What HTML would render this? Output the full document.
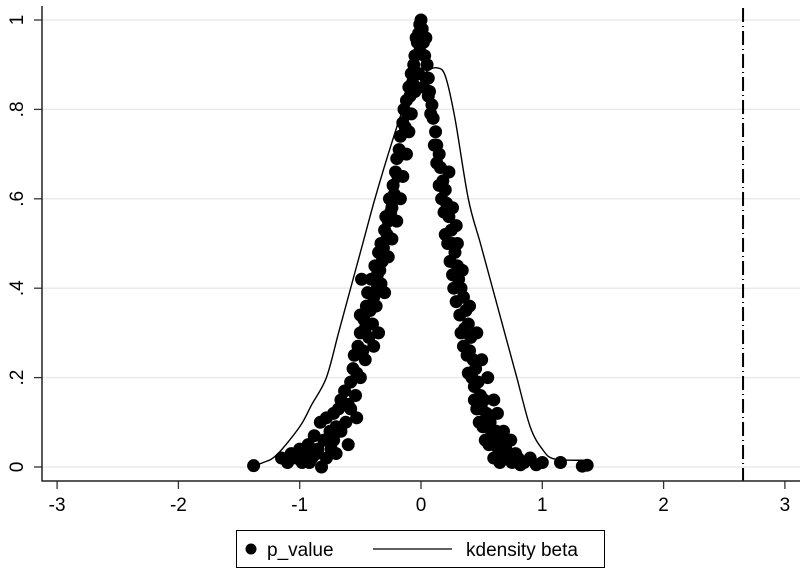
<!DOCTYPE html>
<html><head><meta charset="utf-8"><style>
body{margin:0;background:#fff;}
svg{display:block;font-family:"Liberation Sans",Arial,sans-serif;}
</style></head><body>
<svg id="chart" width="808" height="572" viewBox="0 0 808 572" xmlns="http://www.w3.org/2000/svg">
<rect width="808" height="572" fill="#fff"/>
<g id="grid"></g>
<g id="vline"></g>
<g id="curve"></g>
<g id="pts"></g>
<g id="axes"></g>
<g>
<rect x="236.5" y="530.5" width="368" height="37" fill="#fff" stroke="#000" stroke-width="1"/>
<circle cx="251" cy="549" r="5.5" fill="#000"/>
<text x="267" y="556" font-size="19">p_value</text>
<line x1="373" y1="549" x2="452" y2="549" stroke="#000" stroke-width="1.3"/>
<text x="466" y="556" font-size="19">kdensity beta</text>
</g>
</svg>
<script>
const xTicks=[-3,-2,-1,0,1,2,3];
const yTicks=[0,0.2,0.4,0.6,0.8,1];
const yTickLabels=["0",".2",".4",".6",".8","1"];
const refLineX=2.655;
const curveX=[-1.38,-1.3,-1.19,-1.0,-0.9,-0.78,-0.68,-0.58,-0.48,-0.38,-0.27,-0.15,-0.05,0.05,0.13,0.2,0.28,0.39,0.49,0.59,0.69,0.79,0.9,1.0,1.1,1.36];
const curveY=[0.003,0.01,0.027,0.09,0.14,0.2,0.3,0.4,0.5,0.6,0.7,0.8,0.86,0.885,0.893,0.875,0.78,0.6,0.5,0.4,0.3,0.2,0.09,0.04,0.018,0.015];
const ptX=[-1.38,-1.15,-1.1,-1.07,-1.03,-1.0,-0.98,-0.95,-0.93,-0.9,-0.88,-0.85,-0.83,-0.8,-0.78,-0.75,-0.72,-0.7,-0.68,-0.66,-0.63,-0.6,-0.58,-0.56,-0.55,-0.53,-0.52,-0.5,-0.48,-0.47,-0.45,-0.46,-0.44,-0.42,-0.41,-0.39,-0.38,-0.36,-0.35,-0.33,-0.32,-0.3,-0.29,-0.27,-0.26,-0.24,-0.23,-0.21,-0.2,-0.18,-0.17,-0.15,-0.14,-0.12,-0.1,-0.08,-0.06,-0.05,-0.03,-0.02,-0.01,0,-0.49,-0.5,-0.53,-0.6,-0.7,-0.82,-0.72,
-0.36,-0.34,-0.31,-0.28,-0.25,-0.22,-0.19,-0.16,-0.13,-0.11,-0.09,-0.07,-0.4,-0.43,-0.46,-0.5,-0.54,-0.58,-0.62,-0.66,-0.74,-0.78,-0.86,-0.92,-0.37,-0.33,-0.3,-0.35,-0.39,-0.27,-0.24,-0.2,-0.17,-0.15,-0.12,-0.1,-0.08,-0.05,-0.03,-0.01,
0.01,0.02,0.03,0.05,0.06,0.07,0.09,0.1,0.12,0.13,0.15,0.16,0.18,0.2,0.21,0.23,0.25,0.26,0.28,0.3,0.31,0.33,0.35,0.37,0.36,0.39,0.41,0.4,0.43,0.45,0.44,0.47,0.49,0.5,0.52,0.54,0.55,0.57,0.58,0.6,0.62,0.64,0.66,0.68,0.72,0.75,0.78,0.82,0.85,0.9,0.95,1.0,1.15,1.33,1.37,0.04,-0.04,0.02,-0.02,
0.04,0.06,0.08,0.11,0.13,0.15,0.17,0.19,0.2,0.22,0.24,0.26,0.27,0.29,0.32,0.33,0.35,0.38,0.39,0.42,0.44,0.46,0.48,0.51,0.53,0.56,0.6,0.65,0.7,0.8,0.23,0.26,0.29,0.3,0.34,0.4,0.46,0.5,0.55,0.6,0.63,0.68,0.74];
const ptY=[0.003,0.02,0.01,0.03,0.02,0.04,0.01,0.03,0.05,0.02,0.07,0.04,0.1,0.06,0.11,0.08,0.12,0.09,0.13,0.15,0.17,0.14,0.19,0.22,0.25,0.21,0.27,0.3,0.26,0.33,0.36,0.31,0.39,0.35,0.42,0.38,0.45,0.43,0.48,0.5,0.46,0.53,0.56,0.55,0.6,0.58,0.63,0.66,0.69,0.71,0.74,0.77,0.8,0.82,0.85,0.88,0.9,0.92,0.95,0.97,0.99,1.0,0.42,0.34,0.11,0.05,0.03,0.0,0.06,
0.4,0.44,0.49,0.52,0.57,0.61,0.65,0.7,0.76,0.79,0.83,0.86,0.32,0.29,0.24,0.2,0.16,0.13,0.1,0.08,0.04,0.02,0.03,0.01,0.36,0.41,0.39,0.3,0.27,0.47,0.51,0.55,0.6,0.65,0.7,0.75,0.79,0.84,0.88,0.93,
0.98,0.95,0.92,0.9,0.87,0.84,0.81,0.78,0.75,0.72,0.7,0.67,0.64,0.62,0.59,0.56,0.53,0.5,0.48,0.45,0.42,0.4,0.38,0.35,0.31,0.32,0.29,0.26,0.24,0.22,0.18,0.19,0.16,0.13,0.15,0.12,0.09,0.1,0.07,0.05,0.08,0.04,0.06,0.03,0.02,0.01,0.03,0.005,0.01,0.02,0.005,0.01,0.01,0.002,0.004,0.96,0.96,0.85,0.88,
0.87,0.83,0.79,0.72,0.68,0.63,0.6,0.57,0.52,0.5,0.46,0.43,0.4,0.37,0.34,0.3,0.27,0.25,0.21,0.2,0.15,0.13,0.1,0.09,0.06,0.05,0.02,0.01,0.04,0.02,0.66,0.58,0.54,0.5,0.44,0.36,0.3,0.24,0.2,0.15,0.12,0.08,0.06];

const NS="http://www.w3.org/2000/svg";
const sx=v=>421+v*121.3;
const sy=v=>467-v*447;
function mk(tag,attrs,parent){const e=document.createElementNS(NS,tag);for(const k in attrs)e.setAttribute(k,attrs[k]);parent.appendChild(e);return e;}
const grid=document.getElementById('grid'),axes=document.getElementById('axes');
yTicks.forEach((t,i)=>{
  const g=mk('line',{x1:42,x2:800,y1:sy(t),y2:sy(t),stroke:'#eaeaea','stroke-width':1.5},grid);
  
  
  const tk=mk('line',{x1:34,x2:42,y1:sy(t),y2:sy(t),stroke:'#333','stroke-width':1.3},axes);
  
  
  const lb=mk('text',{x:0,y:0,'font-size':19,'text-anchor':'middle',transform:`translate(23,${sy(t)}) rotate(-90)`},axes);
  lb.textContent=yTickLabels[i];
  
  
});
xTicks.forEach(t=>{
  const tk=mk('line',{x1:sx(t),x2:sx(t),y1:481,y2:489,stroke:'#333','stroke-width':1.3},axes);
  
  
  const lb=mk('text',{x:sx(t),y:511,'font-size':19,'text-anchor':'middle'},axes);
  lb.textContent=String(t);
  
  
});
const ya=mk('line',{x1:42,x2:42,y1:6,y2:481.5,stroke:'#222','stroke-width':1.5},axes);


const xa=mk('line',{x1:41.5,x2:800,y1:481,y2:481,stroke:'#222','stroke-width':1.5},axes);


const vl=mk('line',{x1:sx(refLineX),x2:sx(refLineX),y1:8,y2:481,stroke:'#000','stroke-width':2,'stroke-dasharray':'14 4 1 4'},document.getElementById('vline'));


// Catmull-Rom smoothed path
const P=curveX.map((x,i)=>[sx(x),sy(curveY[i])]);
let d='M'+P[0][0]+','+P[0][1];
for(let i=0;i<P.length-1;i++){
  const p0=P[Math.max(0,i-1)],p1=P[i],p2=P[i+1],p3=P[Math.min(P.length-1,i+2)];
  const c1=[p1[0]+(p2[0]-p0[0])/6,p1[1]+(p2[1]-p0[1])/6];
  const c2=[p2[0]-(p3[0]-p1[0])/6,p2[1]-(p3[1]-p1[1])/6];
  d+=` C${c1[0]},${c1[1]} ${c2[0]},${c2[1]} ${p2[0]},${p2[1]}`;
}
const cp=mk('path',{d:d,fill:'none',stroke:'#000','stroke-width':1.4},document.getElementById('curve'));


const pg=document.getElementById('pts');
ptX.forEach((x,i)=>{
  const c=mk('circle',{cx:sx(x),cy:sy(ptY[i]),r:6.5,fill:'#000'},pg);
  
  
});
</script>
</body></html>
